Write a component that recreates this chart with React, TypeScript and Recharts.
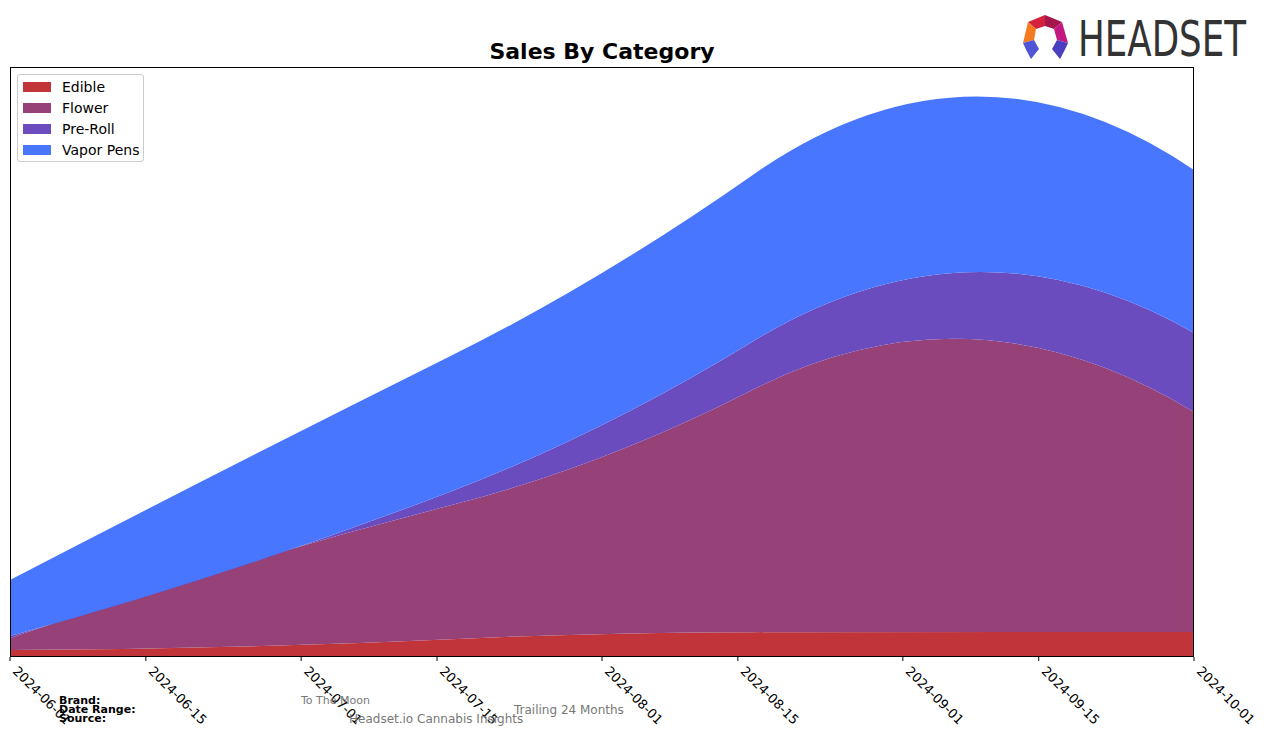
import React from 'react';
import { AreaChart, Area, XAxis, YAxis } from 'recharts';

// Days since 2024-06-01 for each monthly data point
const dates = ['2024-06-01', '2024-07-01', '2024-08-01', '2024-09-01', '2024-10-01'];
const dayOffsets = [0, 30, 61, 92, 122];

// Series values (relative sales units)
const edible = [7, 12, 23, 25, 25];
const flower = [12, 99, 177, 290, 220];
const preRoll = [2, 0, 32, 62, 79];
const vaporPens = [56, 115, 152, 175, 163];

// Tick labels
const tickDays = [0, 14, 30, 44, 61, 75, 92, 106, 122];
const tickLabels = ['2024-06-01', '2024-06-15', '2024-07-01', '2024-07-15', '2024-08-01', '2024-08-15', '2024-09-01', '2024-09-15', '2024-10-01'];

const seriesNames = ['Edible', 'Flower', 'Pre-Roll', 'Vapor Pens'];
const seriesKeys = ['edible', 'flower', 'preRoll', 'vaporPens'];
const seriesColors = ['#c1343a', '#964177', '#6a4cbf', '#4876ff'];

const data = dates.map((d, i) => ({
  date: d,
  day: dayOffsets[i],
  edible: edible[i],
  flower: flower[i],
  preRoll: preRoll[i],
  vaporPens: vaporPens[i],
}));

const FONT = '"DejaVu Sans", sans-serif';

// Quadratic interpolating spline (knots at midpoints, not-a-knot style), as a d3-style curve factory
function solve(A: number[][], b: number[]): number[] {
  const n = b.length;
  for (let c = 0; c < n; c++) {
    let p = c;
    for (let r = c + 1; r < n; r++) if (Math.abs(A[r][c]) > Math.abs(A[p][c])) p = r;
    [A[c], A[p]] = [A[p], A[c]];
    [b[c], b[p]] = [b[p], b[c]];
    for (let r = c + 1; r < n; r++) {
      const f = A[r][c] / A[c][c];
      for (let k = c; k < n; k++) A[r][k] -= f * A[c][k];
      b[r] -= f * b[c];
    }
  }
  const x = new Array(n).fill(0);
  for (let r = n - 1; r >= 0; r--) {
    let s = b[r];
    for (let k = r + 1; k < n; k++) s -= A[r][k] * x[k];
    x[r] = s / A[r][r];
  }
  return x;
}

type Piece = { x0: number; x1: number; a: number; b: number; c: number };

function quadPieces(x: number[], y: number[]): Piece[] {
  const n = x.length;
  if (n < 3) {
    const out: Piece[] = [];
    for (let i = 0; i < n - 1; i++) out.push({ x0: x[i], x1: x[i + 1], a: y[i], b: (y[i + 1] - y[i]) / (x[i + 1] - x[i]), c: 0 });
    return out;
  }
  const breaks = [x[0]];
  for (let i = 1; i <= n - 3; i++) breaks.push((x[i] + x[i + 1]) / 2);
  breaks.push(x[n - 1]);
  const m = breaks.length - 1;
  const N = 3 * m;
  const A: number[][] = [];
  const rhs: number[] = [];
  const row = () => new Array(N).fill(0);
  for (let i = 0; i < n; i++) {
    let j = 0;
    while (j < m - 1 && x[i] >= breaks[j + 1]) j++;
    const d = x[i] - breaks[j];
    const r = row();
    r[3 * j] = 1; r[3 * j + 1] = d; r[3 * j + 2] = d * d;
    A.push(r); rhs.push(y[i]);
  }
  for (let k = 1; k < m; k++) {
    const j = k - 1;
    const d = breaks[k] - breaks[j];
    const r1 = row();
    r1[3 * j] = 1; r1[3 * j + 1] = d; r1[3 * j + 2] = d * d; r1[3 * k] = -1;
    A.push(r1); rhs.push(0);
    const r2 = row();
    r2[3 * j + 1] = 1; r2[3 * j + 2] = 2 * d; r2[3 * k + 1] = -1;
    A.push(r2); rhs.push(0);
  }
  const s = solve(A, rhs);
  const out: Piece[] = [];
  for (let j = 0; j < m; j++) out.push({ x0: breaks[j], x1: breaks[j + 1], a: s[3 * j], b: s[3 * j + 1], c: s[3 * j + 2] });
  return out;
}

class QuadSpline {
  _context: any; _line: number = NaN; _x: number[] = []; _y: number[] = [];
  constructor(context: any) { this._context = context; }
  areaStart() { this._line = 0; }
  areaEnd() { this._line = NaN; }
  lineStart() { this._x = []; this._y = []; }
  point(x: number, y: number) { this._x.push(+x); this._y.push(+y); }
  lineEnd() {
    const x = this._x, y = this._y, n = x.length;
    const ctx = this._context;
    if (n) {
      this._line ? ctx.lineTo(x[0], y[0]) : ctx.moveTo(x[0], y[0]);
      if (n > 1) {
        const reversed = x[0] > x[n - 1];
        const xs = reversed ? x.slice().reverse() : x;
        const ys = reversed ? y.slice().reverse() : y;
        const pieces = quadPieces(xs, ys);
        const order = reversed ? pieces.slice().reverse() : pieces;
        for (const p of order) {
          const h = p.x1 - p.x0;
          const yEnd = p.a + p.b * h + p.c * h * h;
          const cx = p.x0 + h / 2;
          const cy = p.a + (p.b * h) / 2;
          if (reversed) ctx.quadraticCurveTo(cx, cy, p.x0, p.a);
          else ctx.quadraticCurveTo(cx, cy, p.x1, yEnd);
        }
      }
    }
    if (this._line || (this._line !== 0 && n === 1)) ctx.closePath();
    this._line = 1 - this._line;
  }
}
const curveQuadSpline = (context: any) => new QuadSpline(context);

const Tick = (props: any) => {
  const { x, payload } = props;
  const idx = tickDays.indexOf(payload.value);
  const label = idx >= 0 ? tickLabels[idx] : String(payload.value);
  return (
    <g transform={`translate(${x + 2},${672})`}>
      <text x={0} y={0} transform="rotate(45)" textAnchor="start" fontSize={13} fontFamily={FONT} fill="#000">
        {label}
      </text>
    </g>
  );
};

const Logo = () => (
  <svg width={260} height={60} style={{ position: 'absolute', left: 1010, top: 8 }} viewBox="1010 8 260 60">
    <polygon points="1028,22 1045,15 1045,26 1036,29" fill="#d4213d" />
    <polygon points="1045,15 1062,22 1054,29 1045,26" fill="#a3174a" />
    <polygon points="1028,22 1036,29 1034,40 1023,43" fill="#f47b20" />
    <polygon points="1062,22 1068,43 1057,40 1054,29" fill="#c2187f" />
    <polygon points="1023,43 1034,40 1039,49 1031,59" fill="#5055d6" />
    <polygon points="1023,43 1031,59 1027,50" fill="#3a2f9a" />
    <polygon points="1068,43 1057,40 1052,49 1060,59" fill="#4a3fc0" />
    <polygon points="1068,43 1060,59 1064,50" fill="#2e2a8a" />
    <text x={1078} y={56} fontSize={49} fontFamily={FONT} fill="#333" textLength={168} lengthAdjust="spacingAndGlyphs">
      HEADSET
    </text>
  </svg>
);

export default function App() {
  return (
    <div style={{ position: 'absolute', left: 0, top: 0, width: 1270, height: 743, background: '#fff', fontFamily: FONT }}>
      <div style={{ position: 'absolute', left: 402, top: 39, width: 400, textAlign: 'center', fontSize: 22, fontWeight: 'bold', color: '#000', lineHeight: '26px' }}>
        Sales By Category
      </div>
      <Logo />
      <AreaChart width={1270} height={743} data={data} margin={{ top: 67, left: 10, right: 76, bottom: 0 }} style={{ position: 'absolute', left: 0, top: 0 }}>
        <XAxis
          dataKey="day"
          type="number"
          domain={[0, 122]}
          ticks={tickDays}
          interval={0}
          tick={<Tick />}
          tickLine={{ stroke: '#000' }}
          tickSize={4}
          axisLine={false}
          height={86}
        />
        <YAxis hide domain={[0, 590]} allowDataOverflow />
        {seriesKeys.map((k, i) => (
          <Area
            key={k}
            dataKey={k}
            name={seriesNames[i]}
            stackId="a"
            type={curveQuadSpline as any}
            fill={seriesColors[i]}
            fillOpacity={1}
            stroke="none"
            isAnimationActive={false}
          />
        ))}
      </AreaChart>
      <div style={{ position: 'absolute', left: 10, top: 67, width: 1184, height: 590, border: '1px solid #000', boxSizing: 'border-box', marginLeft: -0.5, marginTop: -0.5, pointerEvents: 'none' }} />
      <div style={{ position: 'absolute', left: 17, top: 74, width: 127, height: 88, border: '1px solid #ccc', borderRadius: 3, background: 'rgba(255,255,255,0.8)', boxSizing: 'border-box' }}>
        {seriesNames.map((n, i) => (
          <div key={n} style={{ position: 'absolute', left: 5, top: 5 + i * 21, height: 14, display: 'flex', alignItems: 'center' }}>
            <div style={{ width: 28, height: 10, background: seriesColors[i] }} />
            <span style={{ marginLeft: 11, fontSize: 14, color: '#000', whiteSpace: 'nowrap' }}>{n}</span>
          </div>
        ))}
      </div>
      <div style={{ position: 'absolute', left: 59, top: 696, fontSize: 11, fontWeight: 'bold', lineHeight: '9px', color: '#000' }}>
        <div>Brand:</div>
        <div>Date Range:</div>
        <div>Source:</div>
      </div>
      <div style={{ position: 'absolute', left: 301, top: 695, fontSize: 11, color: '#777', lineHeight: '12px' }}>To The Moon</div>
      <div style={{ position: 'absolute', left: 514, top: 703, fontSize: 12, color: '#777', lineHeight: '14px' }}>Trailing 24 Months</div>
      <div style={{ position: 'absolute', left: 349, top: 712, fontSize: 12, color: '#777', lineHeight: '14px' }}>Headset.io Cannabis Insights</div>
    </div>
  );
}
